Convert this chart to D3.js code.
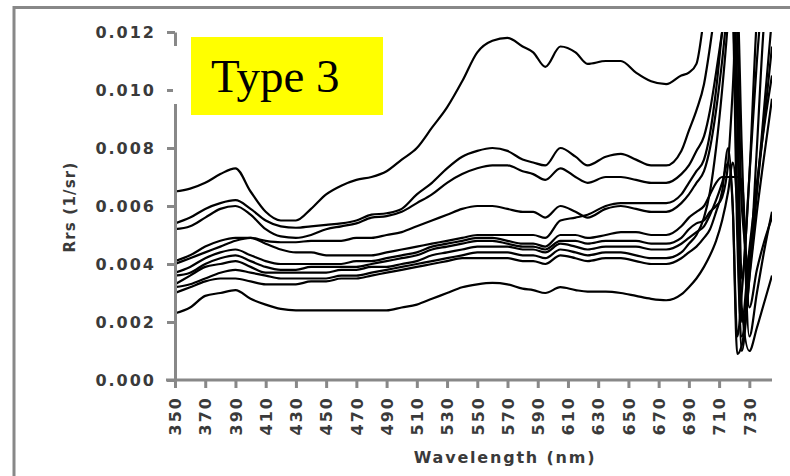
<!DOCTYPE html>
<html><head><meta charset="utf-8">
<script src="https://cdn.jsdelivr.net/npm/d3@7"></script>
<style>body{margin:0;background:#fff}svg{display:block}</style>
</head><body><svg id="c" width="790" height="476"></svg>
<script>
// Wavelength (nm)
const wavelengths = [350,360,370,380,390,400,410,420,430,440,450,460,470,480,490,500,510,520,530,540,550,560,570,580,587,595,605,615,623,635,645,655,665,675,685,690,695,700,704,708,712,716,719,722,725,730,735,740,745];
// Rrs series, in units of 0.001 sr^-1
const rrs1 = [6.5,6.6,6.8,7.1,7.3,6.5,5.8,5.5,5.5,5.9,6.4,6.7,6.9,7.0,7.2,7.6,8.0,8.7,9.4,10.3,11.3,11.7,11.8,11.5,11.3,10.8,11.5,11.3,10.9,11.0,11.0,10.6,10.3,10.2,10.5,10.6,10.9,12.5,14,15.5,16,16,15,12,6,4,6.5,9.5,12.5];
const rrs2 = [5.4,5.6,5.9,6.1,6.2,5.9,5.5,5.3,5.25,5.3,5.35,5.4,5.5,5.7,5.75,5.9,6.4,6.8,7.3,7.7,7.9,8.0,7.9,7.6,7.5,7.4,8.0,7.7,7.4,7.7,7.8,7.6,7.4,7.4,7.9,8.6,9.3,10.2,11.5,13,14.5,15,13,5,1.5,4,6.5,9,11.5];
const rrs3 = [5.2,5.3,5.6,5.9,6.0,5.7,5.2,4.95,4.9,5.0,5.2,5.3,5.4,5.6,5.65,5.8,6.1,6.4,6.8,7.1,7.3,7.4,7.4,7.2,7.1,6.9,7.3,7.0,6.8,7.0,7.0,6.9,6.8,6.8,7.1,7.4,7.9,8.4,9.3,10.6,12.0,13.5,13,6,1.0,3.5,5.8,7.8,9.7];
const rrs4 = [4.1,4.3,4.6,4.8,4.9,4.9,4.8,4.75,4.75,4.8,4.8,4.8,4.9,4.9,5.0,5.1,5.3,5.5,5.7,5.9,6.0,6.0,5.9,5.8,5.8,5.6,6.0,5.8,5.6,5.9,6.0,5.9,5.8,5.8,6.1,6.4,6.8,7.2,8.0,9.3,11,13,14,9,2,4.5,6.8,8.8,10.5];
const rrs5 = [4.0,4.2,4.4,4.6,4.8,4.9,4.7,4.5,4.4,4.4,4.3,4.3,4.3,4.3,4.4,4.5,4.6,4.7,4.8,4.9,5.0,5.0,5.0,5.0,5.0,4.9,5.5,5.6,5.7,6.0,6.1,6.1,6.1,6.1,6.4,6.8,7.2,7.6,8.5,10,12,13.5,14,10,3.5,7,11,14,16];
const rrs6 = [3.7,3.9,4.2,4.4,4.5,4.3,4.1,4.0,4.0,4.0,4.0,4.0,4.1,4.1,4.2,4.3,4.4,4.6,4.7,4.8,4.9,4.9,4.8,4.7,4.7,4.6,5.0,5.0,4.9,5.0,5.1,5.1,5.0,5.0,5.3,5.6,5.8,6.0,6.4,6.8,7.0,7.0,7.0,7.0,6.9,2.5,3.8,4.8,5.6];
const rrs7 = [3.6,3.7,4.0,4.2,4.3,4.1,3.9,3.8,3.8,3.9,3.9,3.9,3.9,4.0,4.1,4.2,4.3,4.5,4.6,4.7,4.8,4.8,4.7,4.6,4.6,4.5,4.8,4.8,4.7,4.8,4.8,4.8,4.7,4.7,4.9,5.2,5.4,5.5,5.8,6.0,6.3,7.5,10,13,8,1.5,3.0,4.5,5.8];
const rrs8 = [3.3,3.6,3.9,4.0,4.1,3.9,3.7,3.7,3.7,3.7,3.7,3.8,3.8,3.9,3.9,4.0,4.1,4.3,4.4,4.5,4.6,4.6,4.6,4.5,4.5,4.4,4.7,4.6,4.5,4.6,4.6,4.6,4.5,4.5,4.7,4.9,5.1,5.3,5.7,6.2,6.8,7.5,6,1.5,3,7,12.5,15,16];
const rrs9 = [3.2,3.3,3.5,3.7,3.8,3.7,3.6,3.5,3.5,3.5,3.5,3.6,3.6,3.7,3.8,3.9,4.0,4.1,4.2,4.3,4.4,4.4,4.4,4.3,4.3,4.2,4.5,4.4,4.3,4.4,4.4,4.3,4.2,4.2,4.4,4.7,5.0,5.6,6.5,8,10,12.5,15,16,16,16,16,16,16];
const rrs10 = [3.0,3.2,3.4,3.5,3.5,3.4,3.3,3.3,3.3,3.4,3.4,3.5,3.5,3.6,3.7,3.8,3.9,4.0,4.1,4.2,4.2,4.2,4.2,4.1,4.1,4.0,4.3,4.2,4.1,4.2,4.2,4.1,4.0,4.0,4.2,4.4,4.6,4.9,5.2,5.8,6.5,8,6,0.9,1.2,3.5,8,12.5,14];
const rrs11 = [2.3,2.5,2.9,3.0,3.1,2.8,2.6,2.45,2.4,2.4,2.4,2.4,2.4,2.4,2.4,2.5,2.6,2.8,3.0,3.2,3.3,3.35,3.3,3.15,3.1,3.0,3.2,3.1,3.05,3.05,3.0,2.9,2.8,2.75,2.95,3.2,3.5,3.9,4.3,4.8,5.5,6.5,7.5,6.0,2.5,1.0,1.8,2.7,3.6];
const allSeries = [rrs1,rrs2,rrs3,rrs4,rrs5,rrs6,rrs7,rrs8,rrs9,rrs10,rrs11];
const yTickValues = [0,0.002,0.004,0.006,0.008,0.010,0.012];
const xTickValues = [350,370,390,410,430,450,470,490,510,530,550,570,590,610,630,650,670,690,710,730];
const chartLabel = "Type 3";
const xTitle = "Wavelength (nm)";
const yTitle = "Rrs (1/sr)";

const svg = d3.select("#c");
const L = 175, R = 772, T = 32, B = 380;
const x = d3.scaleLinear().domain([350, 745]).range([L, R]);
const y = d3.scaleLinear().domain([0, 0.012]).range([B, T]);
const axisColor = "#888888";
const textColor = "#3a3a3a";
const font = "'DejaVu Sans', sans-serif";

svg.append("rect").attr("width",790).attr("height",476).attr("fill","#fff");
// outer frame
svg.append("rect").attr("x",14).attr("y",7.5).attr("width",800).attr("height",500)
  .attr("fill","none").attr("stroke",axisColor).attr("stroke-width",3);

svg.append("clipPath").attr("id","plot").append("rect")
  .attr("x",L).attr("y",T).attr("width",R-L).attr("height",B-T);

const line = d3.line().x((d,i)=>x(wavelengths[i])).y(d=>y(d*0.001)).curve(d3.curveMonotoneX);
svg.append("g").attr("clip-path","url(#plot)").selectAll("path").data(allSeries).join("path")
  .attr("d", line).attr("fill","none").attr("stroke","#000").attr("stroke-width",2.2)
  .attr("stroke-linejoin","round");

// y axis
const ya = svg.append("g").attr("transform",`translate(${L},0)`)
  .call(d3.axisLeft(y).tickValues(yTickValues).tickFormat(d3.format(".3f")).tickSize(8).tickSizeOuter(0).tickPadding(11));
// x axis
const xa = svg.append("g").attr("transform",`translate(0,${B})`)
  .call(d3.axisBottom(x).tickValues(xTickValues).tickFormat(d3.format("d")).tickSize(8).tickSizeOuter(0));
[ya, xa].forEach(g=>{
  g.select(".domain").attr("stroke",axisColor).attr("stroke-width",3);
  g.selectAll(".tick line").attr("stroke",axisColor).attr("stroke-width",3);
  g.selectAll("text").attr("fill",textColor).style("font-family",font).style("font-weight","bold")
    .style("font-size","16px").style("letter-spacing","2px");
});
xa.select(".domain").attr("d", `M${L-9},0H${R}`);
xa.selectAll(".tick text").attr("transform","rotate(-90)").attr("text-anchor","end")
  .attr("x",-16).attr("y",0).attr("dy","0.36em");

// white gap over y axis (text box margin)
svg.append("rect").attr("x",173).attr("y",46).attr("width",17).attr("height",58).attr("fill","#fff");

// titles
svg.append("text").attr("x",505).attr("y",463).attr("text-anchor","middle")
  .attr("fill",textColor).style("font-family",font).style("font-weight","bold")
  .style("font-size","16px").style("letter-spacing","1.8px").text(xTitle);
svg.append("text").attr("transform","translate(75,207) rotate(-90)").attr("text-anchor","middle")
  .attr("fill",textColor).style("font-family",font).style("font-weight","bold")
  .style("font-size","15px").style("letter-spacing","1.2px").text(yTitle);

// label box
svg.append("rect").attr("x",191).attr("y",37).attr("width",192).attr("height",78).attr("fill","#ffff00");
svg.append("text").attr("x",211).attr("y",92).attr("fill","#000")
  .style("font-family","'Liberation Serif', serif").style("font-size","47px").text(chartLabel);
</script></body></html>
